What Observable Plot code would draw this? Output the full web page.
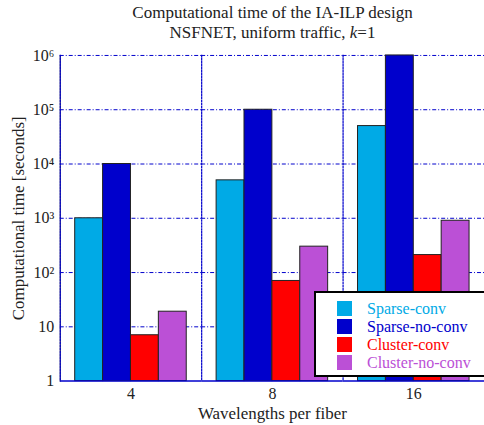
<!DOCTYPE html>
<html>
<head>
<meta charset="utf-8">
<script src="https://cdn.jsdelivr.net/npm/d3@7"></script>
<script src="https://cdn.jsdelivr.net/npm/@observablehq/plot@0.6"></script>
<style>
  html, body { margin: 0; padding: 0; background: white; overflow: hidden; width: 484px; height: 425px; }
  #wrap { position: relative; width: 484px; height: 425px; font-family: "Liberation Serif", "Times New Roman", serif; }
  #title { position: absolute; left: 59px; top: 3px; width: 427px; text-align: center; font-size: 17px; line-height: 20px; color: #222; }
  #chart { position: absolute; left: 0; top: 45px; }
  #legend { position: absolute; left: 314px; top: 291px; width: 180px; height: 86px; background: white; border: 2px solid black; box-sizing: border-box; }
  .row { position: absolute; left: 21px; height: 18px; font-size: 16px; line-height: 18px; white-space: nowrap; }
  .sw { display: inline-block; width: 15px; height: 15px; vertical-align: -2px; margin-right: 15px; }
  svg text { fill: #222; }
</style>
</head>
<body>
<div id="wrap">
  <div id="title">Computational time of the IA-ILP design<br>NSFNET, uniform traffic, <i>k</i>=1</div>
  <div id="chart"></div>
  <div id="legend"></div>
</div>
<script>
const groups = ["4", "8", "16"];
const series = ["Sparse-conv", "Sparse-no-conv", "Cluster-conv", "Cluster-no-conv"];
const sparseConv = [1000, 5000, 50000];
const sparseNoConv = [10000, 100000, 1000000];
const clusterConv = [7, 70, 210];
const clusterNoConv = [19, 300, 900];
const colors = ["#00aae6", "#0000cc", "#ff0000", "#bb50d6"];
const yTicks = [1, 10, 100, 1e3, 1e4, 1e5, 1e6];
const yTickLabels = ["1", "10", "10²", "10³", "10⁴", "10⁵", "10⁶"];

const valuesBySeries = [sparseConv, sparseNoConv, clusterConv, clusterNoConv];
const data = [];
groups.forEach((g, gi) => {
  series.forEach((s, si) => {
    data.push({group: g, series: s, value: valuesBySeries[si][gi]});
  });
});

const grid = "#0000cc";

const chart = Plot.plot({
  width: 486,
  height: 380,
  marginLeft: 59,
  marginRight: 0,
  marginTop: 10,
  marginBottom: 43,
  style: {fontFamily: "Liberation Serif, Times New Roman, serif", fontSize: "16px", background: "white", color: "#222"},
  fx: {domain: groups, padding: 0, label: "Wavelengths per fiber", labelAnchor: "center", labelOffset: 38, tickSize: 0, tickPadding: 7},
  x: {domain: series, padding: 0, paddingOuter: 0.5, axis: null},
  y: {type: "log", domain: [1, 1e6], ticks: yTicks, tickFormat: d => yTickLabels[yTicks.indexOf(d)], tickSize: 0, tickPadding: 6,
      label: "Computational time [seconds]", labelAnchor: "center", labelOffset: 48, labelArrow: "none", line: true},
  color: {domain: series, range: colors},
  marks: [
    Plot.ruleY(yTicks.slice(1), {stroke: grid, strokeWidth: 1, strokeDasharray: "4,2,1,2"}),
    Plot.frame({anchor: "left", stroke: grid, strokeDasharray: "1.5,1.5", strokeWidth: 1.2}),
    Plot.barY(data, {fx: "group", x: "series", y1: 1, y2: "value", fill: "series", stroke: "#222", strokeWidth: 1}),
    Plot.ruleY([1], {stroke: grid, strokeWidth: 1.5})
  ]
});
chart.querySelectorAll('[aria-label="y-axis"] path, [aria-label="y-axis"] line').forEach(e => { e.setAttribute("stroke", grid); });
chart.querySelectorAll("text").forEach(t => {
  if (t.textContent.includes("Computational")) t.textContent = "Computational time [seconds]";
  if (t.textContent.includes("Wavelengths")) { t.textContent = "Wavelengths per fiber"; t.style.fontSize = "17px"; }
});
chart.querySelectorAll("text").forEach(t => {
  if (t.textContent === "Computational time [seconds]") t.style.fontSize = "17px";
});
document.getElementById("chart").appendChild(chart);

const legend = document.getElementById("legend");
series.forEach((s, i) => {
  const row = document.createElement("div");
  row.className = "row";
  row.style.top = (7 + i * 18) + "px";
  row.style.color = colors[i];
  const sw = document.createElement("span");
  sw.className = "sw";
  sw.style.background = colors[i];
  row.appendChild(sw);
  row.appendChild(document.createTextNode(s));
  legend.appendChild(row);
});
</script>
</body>
</html>
